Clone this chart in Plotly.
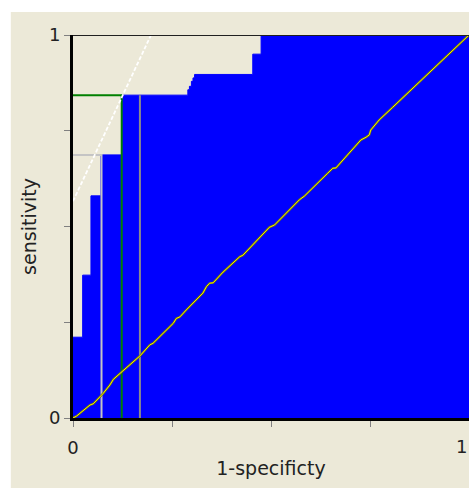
import plotly.graph_objects as go

# ROC step curve (1-specificity, sensitivity)
roc_fpr = [0.0, 0.0244, 0.0453, 0.0705, 0.1227, 0.290, 0.294, 0.299, 0.303, 0.307, 0.454, 0.475, 1.0]
roc_tpr = [0.211, 0.373, 0.580, 0.687, 0.843, 0.857, 0.866, 0.879, 0.888, 0.897, 0.950, 1.0, 1.0]

# near-diagonal reference curve (yellow)
ref_fpr = [0.0, 0.009, 0.043, 0.051, 0.076, 0.093, 0.102, 0.118, 0.126, 0.169, 0.194, 0.202,
           0.219, 0.253, 0.261, 0.270, 0.286, 0.328, 0.337, 0.345, 0.354, 0.379, 0.421, 0.429,
           0.496, 0.509, 0.572, 0.584, 0.643, 0.656, 0.664, 0.727, 0.740, 0.748, 0.752, 0.773,
           0.807, 0.882, 0.962, 1.0]
ref_tpr = [0.0, 0.005, 0.034, 0.037, 0.064, 0.086, 0.101, 0.117, 0.123, 0.162, 0.191, 0.195,
           0.212, 0.247, 0.260, 0.264, 0.282, 0.326, 0.343, 0.352, 0.353, 0.381, 0.421, 0.425,
           0.498, 0.504, 0.570, 0.579, 0.639, 0.652, 0.653, 0.726, 0.733, 0.739, 0.752, 0.778,
           0.811, 0.884, 0.963, 1.0]

# cut-point markers
cut_light = (0.072, 0.687)
cut_best = (0.123, 0.843)
cut_gray = (0.169, 0.843)

# iso-performance (tangent) line
tangent_x = [0.0, 0.197]
tangent_y = [0.566, 1.0]

x_ticks = [0, 0.25, 0.5, 0.75, 1]
x_ticktext = ["0", "", "", "", ""]
x_end_label = "1"
y_ticks = [0, 0.25, 0.5, 0.75, 1]
y_ticktext = ["0", "", "", "", "1"]

BEIGE = "#ECE9D8"
FONT = "DejaVu Sans"

fig = go.Figure()

fig.add_trace(go.Scatter(x=roc_fpr, y=roc_tpr, mode="lines", line=dict(shape="hv", width=1, color="#0000FF"),
                         fill="tozeroy", fillcolor="#0000FF", hoverinfo="skip"))

fig.add_trace(go.Scatter(x=[0, cut_light[0], cut_light[0]], y=[cut_light[1], cut_light[1], 0], mode="lines",
                         line=dict(color="#C4C4C4", width=2)))
fig.add_trace(go.Scatter(x=[cut_gray[0], cut_gray[0]], y=[0, cut_gray[1]], mode="lines",
                         line=dict(color="#8C8C8C", width=2)))
fig.add_trace(go.Scatter(x=[0, cut_best[0], cut_best[0]], y=[cut_best[1], cut_best[1], 0], mode="lines",
                         line=dict(color="#008000", width=2)))

fig.add_trace(go.Scatter(x=tangent_x, y=tangent_y, mode="lines",
                         line=dict(color="#FFFFFF", width=1.8, dash="4px,2px")))

fig.add_trace(go.Scatter(x=ref_fpr, y=ref_tpr, mode="lines", line=dict(color="#6E6E18", width=2.2)))
fig.add_trace(go.Scatter(x=ref_fpr, y=ref_tpr, mode="lines", line=dict(color="#F0F000", width=1)))

fig.add_shape(type="rect", xref="paper", yref="paper", x0=-0.157, x1=1.01, y0=-0.19, y1=1.06,
              fillcolor=BEIGE, line=dict(width=0), layer="below")
fig.add_shape(type="line", xref="x", yref="y", x0=0, x1=1, y0=1, y1=1,
              line=dict(color="#202020", width=2))

fig.add_annotation(text=x_end_label, xref="x", x=x_ticks[-1], xanchor="right", yref="paper", y=0,
                   yanchor="top", yshift=-16, showarrow=False, font=dict(size=18, color="#222222"))

fig.update_layout(
    width=469, height=488,
    margin=dict(l=73, r=0, t=35, b=70, autoexpand=False),
    paper_bgcolor="#FFFFFF", plot_bgcolor=BEIGE,
    showlegend=False,
    font=dict(family=FONT, size=18, color="#222222"),
    xaxis=dict(range=[0, 1], tickvals=x_ticks, ticktext=x_ticktext, showgrid=False, zeroline=False,
               showline=True, linecolor="#000000", linewidth=3, ticks="outside", ticklen=6,
               tickcolor="#808080", tickwidth=1, tickfont=dict(size=18),
               ticklabelstandoff=5, automargin=False,
               title=dict(text="1-specificty", font=dict(size=19), standoff=6)),
    yaxis=dict(range=[0, 1], tickvals=y_ticks, ticktext=y_ticktext, showgrid=False, zeroline=False,
               showline=True, linecolor="#000000", linewidth=3, ticks="outside", ticklen=6,
               tickcolor="#808080", tickwidth=1, tickfont=dict(size=18), automargin=False,
               title=dict(text="sensitivity", font=dict(size=19), standoff=8)),
)

fig.write_html("out.html")
